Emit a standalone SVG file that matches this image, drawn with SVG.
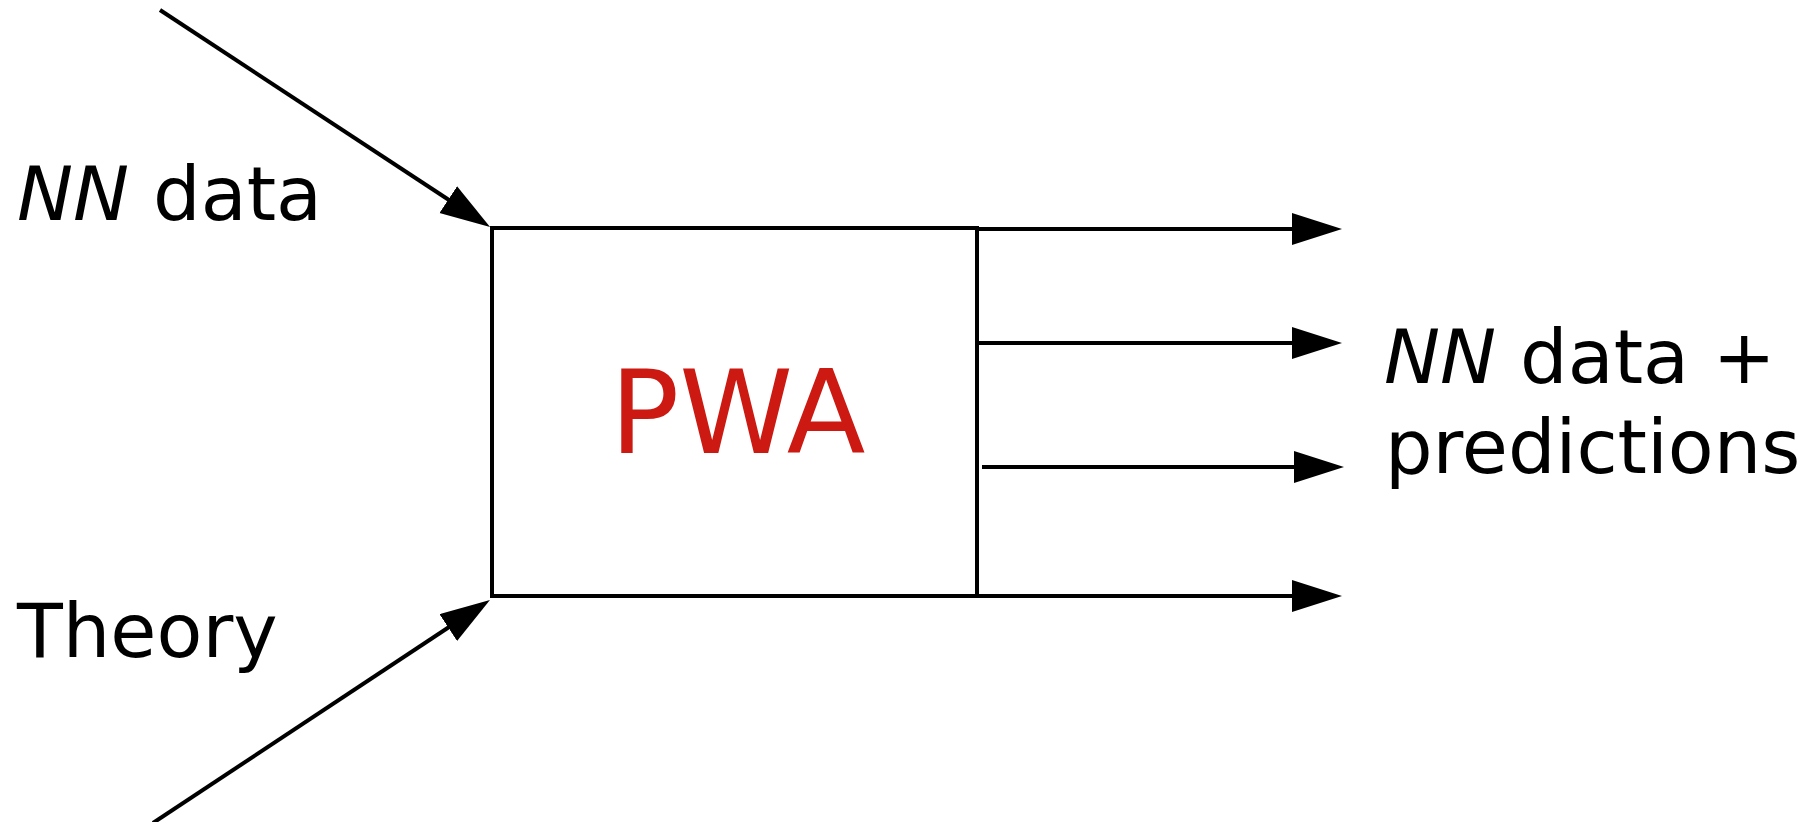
<svg xmlns="http://www.w3.org/2000/svg" width="1809" height="822" viewBox="0 0 1809 822">
  <style>
    .ln { stroke: #000; stroke-width: 4; fill: none; }
    .lbl { font-family: "DejaVu Sans", Verdana, sans-serif; font-size: 75px; fill: #000; }
    .it { font-style: italic; }
    .pwa { font-family: "DejaVu Sans", Verdana, sans-serif; font-size: 115px; fill: #cc1a12; }
  </style>
  <defs>
    <marker id="ah" markerUnits="userSpaceOnUse" markerWidth="52" markerHeight="34" refX="40" refY="16" orient="auto" viewBox="0 0 52 34">
      <path d="M0,0 L50,16 L0,32 z" fill="#000"/>
    </marker>
  </defs>
  <rect width="1809" height="822" fill="#fff"/>
  <g id="node-pwa">
    <rect x="492" y="228" width="485" height="368" class="ln"/>
    <text x="610" y="453" class="pwa">PWA</text>
  </g>
  <g id="node-nn-data">
    <text x="17" y="220" class="lbl"><tspan class="it">NN</tspan> data</text>
  </g>
  <g id="node-theory">
    <text x="17" y="657" class="lbl">Theory</text>
  </g>
  <g id="node-output">
    <text x="1384" y="383" class="lbl"><tspan class="it">NN</tspan> data +</text>
    <text x="1385" y="473" class="lbl">predictions</text>
  </g>
  <g id="connectors">
    <line x1="160" y1="10" x2="481.7" y2="221.5" class="ln" marker-end="url(#ah)"/>
    <line x1="153" y1="823" x2="481.6" y2="605.5" class="ln" marker-end="url(#ah)"/>
    <line x1="977" y1="229" x2="1332" y2="229" class="ln" marker-end="url(#ah)"/>
    <line x1="977" y1="343" x2="1332" y2="343" class="ln" marker-end="url(#ah)"/>
    <line x1="982" y1="467" x2="1334" y2="467" class="ln" marker-end="url(#ah)"/>
    <line x1="977" y1="596" x2="1332" y2="596" class="ln" marker-end="url(#ah)"/>
  </g>
</svg>
